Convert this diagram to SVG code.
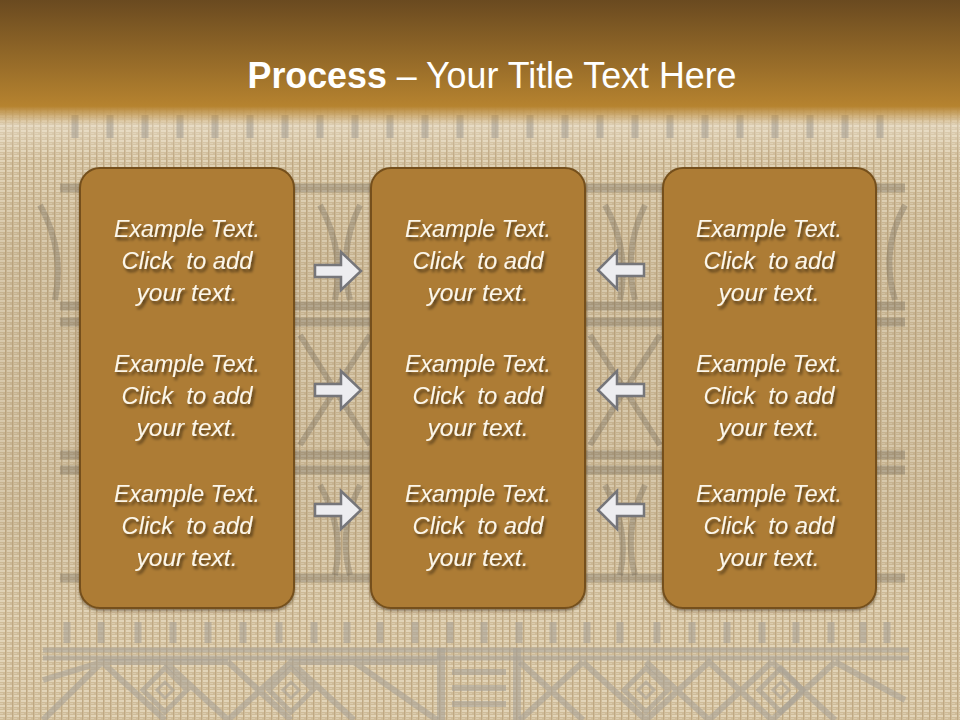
<svg xmlns="http://www.w3.org/2000/svg" width="960" height="720" viewBox="0 0 960 720">
  <defs>
    <pattern id="burlap" width="7" height="5" patternUnits="userSpaceOnUse">
      <rect width="7" height="5" fill="#cfbc99"/>
      <rect x="0" y="0" width="5" height="2" fill="#e2d4b8"/>
      <rect x="5" y="0" width="1" height="5" fill="#bfa883"/>
      <rect x="0" y="3" width="3" height="1" fill="#dbcbad"/>
    </pattern>
    <linearGradient id="hdr" x1="0" y1="0" x2="0" y2="1">
      <stop offset="0" stop-color="#6a4a20"/>
      <stop offset="0.85" stop-color="#b6832f"/>
      <stop offset="1" stop-color="#b6832f" stop-opacity="0"/>
    </linearGradient>
    <linearGradient id="lite" x1="0" y1="0" x2="0" y2="1">
      <stop offset="0" stop-color="#f1e8d8" stop-opacity="0.7"/>
      <stop offset="1" stop-color="#f1e8d8" stop-opacity="0"/>
    </linearGradient>
    <linearGradient id="mid" x1="0" y1="0" x2="0" y2="1">
      <stop offset="0" stop-color="#8a7350" stop-opacity="0"/>
      <stop offset="0.2" stop-color="#8a7350" stop-opacity="0.12"/>
      <stop offset="0.8" stop-color="#8a7350" stop-opacity="0.12"/>
      <stop offset="1" stop-color="#8a7350" stop-opacity="0"/>
    </linearGradient>
    <filter id="tshadow" x="-10%" y="-20%" width="130%" height="160%">
      <feDropShadow dx="2" dy="3" stdDeviation="1.5" flood-color="#000" flood-opacity="0.55"/>
    </filter>
    <filter id="bshadow" x="-10%" y="-10%" width="120%" height="120%">
      <feDropShadow dx="0" dy="2" stdDeviation="1.5" flood-color="#3a2508" flood-opacity="0.5"/>
    </filter>
    <style>
      .box { fill: #ad7b34; stroke: #74501c; stroke-width: 2; filter: url(#bshadow); }
      .lbl { font-family: "Liberation Sans", Arial, sans-serif; font-style: italic; font-size: 24.5px; fill: #fbf6ea; text-anchor: middle; white-space: pre; filter: url(#tshadow); }
      .arrow { fill: #ededf0; stroke: #76767a; stroke-width: 2.5; stroke-linejoin: miter; }
      .motif { fill: none; stroke: #a8a196; stroke-opacity: 0.6; }
      .motifd { fill: none; stroke: #6f6658; stroke-opacity: 0.35; }
    </style>
  </defs>

  <!-- background -->
  <rect width="960" height="720" fill="url(#burlap)"/>
  <rect y="160" width="960" height="450" fill="url(#mid)"/>
  <rect y="100" width="960" height="60" fill="url(#lite)"/>

  <!-- background motifs -->
  <g id="motifs">
    <g class="motif" stroke-width="7">
      <path d="M75,115V138 M110,115V138 M145,115V138 M180,115V138 M215,115V138 M250,115V138 M285,115V138 M320,115V138 M355,115V138 M390,115V138 M425,115V138 M460,115V138 M495,115V138 M530,115V138 M565,115V138 M600,115V138 M635,115V138 M670,115V138 M705,115V138 M740,115V138 M775,115V138 M810,115V138 M845,115V138 M880,115V138"/>
    </g>
    <g class="motifd" stroke-width="9">
      <path d="M60,188H905"/>
      <path d="M60,306H905 M60,322H905"/>
      <path d="M60,455H905 M60,470H905"/>
      <path d="M60,578H905"/>
    </g>
    <g class="motifd" stroke-width="6">
      <path d="M320,205Q345,250 335,300 M360,205Q338,250 350,300"/>
      <path d="M605,205Q630,250 620,300 M645,205Q623,250 635,300"/>
      <path d="M40,205Q65,250 55,300 M905,205Q880,250 895,300"/>
      <path d="M300,335L370,445 M370,335L300,445"/>
      <path d="M590,335L660,445 M660,335L590,445"/>
      <path d="M320,485Q345,530 335,575 M360,485Q338,530 350,575"/>
      <path d="M605,485Q630,530 620,575 M645,485Q623,530 635,575"/>
    </g>
    <g class="motif" stroke-width="7">
      <path d="M67,622V643 M101,622V643 M138,622V643 M173,622V643 M208,622V643 M243,622V643 M279,622V643 M314,622V643 M347,622V643 M380,622V643 M415,622V643 M450,622V643 M484,622V643 M519,622V643 M553,622V643 M587,622V643 M620,622V643 M657,622V643 M692,622V643 M727,622V643 M762,622V643 M796,622V643 M831,622V643 M863,622V643 M887,622V643"/>
      <path d="M43,650H909 M43,658H909" stroke-width="5"/>
      <path d="M441,648V720 M517,648V720" stroke-width="8"/>
      <path d="M452,672H506 M452,688H506 M452,704H506" stroke-width="6"/>
      <path d="M43,680L102,662L165,720 M102,662L43,720 M102,662L228,662 M165,662L228,720L291,662L354,720 M228,662L291,720 M291,662L354,662L437,720 M354,662L437,662" stroke-width="6"/>
      <path d="M520,662L583,720 M583,662L520,720 M583,662L646,720L709,662L772,720 M646,662L709,720L772,662 M772,662L835,720 M835,662L772,720 M835,662L905,700" stroke-width="6"/>
      <path d="M165,668L187,690L165,712L143,690Z M291,668L313,690L291,712L269,690Z M646,668L668,690L646,712L624,690Z M781,668L803,690L781,712L759,690Z" stroke-width="5"/>
      <path d="M165,682L173,690L165,698L157,690Z M291,682L299,690L291,698L283,690Z M646,682L654,690L646,698L638,690Z M781,682L789,690L781,698L773,690Z" stroke-width="3"/>
    </g>
  </g>

  <!-- header -->
  <rect width="960" height="125" fill="url(#hdr)"/>
  <text x="492" y="88" font-family="Liberation Sans, Arial, sans-serif" font-size="37" fill="#ffffff" text-anchor="middle" textLength="489" lengthAdjust="spacingAndGlyphs"><tspan font-weight="bold">Process</tspan> – Your Title Text Here</text>

  <!-- nodes -->
  <g id="box-left">
    <rect class="box" x="80" y="168" width="214" height="440" rx="20"/>
    <text class="lbl" x="187" y="237" textLength="146" lengthAdjust="spacingAndGlyphs">Example Text.</text>
    <text class="lbl" x="187" y="269" textLength="131" lengthAdjust="spacingAndGlyphs">Click  to add</text>
    <text class="lbl" x="187" y="301" textLength="101" lengthAdjust="spacingAndGlyphs">your text.</text>
    <text class="lbl" x="187" y="372" textLength="146" lengthAdjust="spacingAndGlyphs">Example Text.</text>
    <text class="lbl" x="187" y="404" textLength="131" lengthAdjust="spacingAndGlyphs">Click  to add</text>
    <text class="lbl" x="187" y="436" textLength="101" lengthAdjust="spacingAndGlyphs">your text.</text>
    <text class="lbl" x="187" y="502" textLength="146" lengthAdjust="spacingAndGlyphs">Example Text.</text>
    <text class="lbl" x="187" y="534" textLength="131" lengthAdjust="spacingAndGlyphs">Click  to add</text>
    <text class="lbl" x="187" y="566" textLength="101" lengthAdjust="spacingAndGlyphs">your text.</text>
  </g>
  <g id="box-middle">
    <rect class="box" x="371" y="168" width="214" height="440" rx="20"/>
    <text class="lbl" x="478" y="237" textLength="146" lengthAdjust="spacingAndGlyphs">Example Text.</text>
    <text class="lbl" x="478" y="269" textLength="131" lengthAdjust="spacingAndGlyphs">Click  to add</text>
    <text class="lbl" x="478" y="301" textLength="101" lengthAdjust="spacingAndGlyphs">your text.</text>
    <text class="lbl" x="478" y="372" textLength="146" lengthAdjust="spacingAndGlyphs">Example Text.</text>
    <text class="lbl" x="478" y="404" textLength="131" lengthAdjust="spacingAndGlyphs">Click  to add</text>
    <text class="lbl" x="478" y="436" textLength="101" lengthAdjust="spacingAndGlyphs">your text.</text>
    <text class="lbl" x="478" y="502" textLength="146" lengthAdjust="spacingAndGlyphs">Example Text.</text>
    <text class="lbl" x="478" y="534" textLength="131" lengthAdjust="spacingAndGlyphs">Click  to add</text>
    <text class="lbl" x="478" y="566" textLength="101" lengthAdjust="spacingAndGlyphs">your text.</text>
  </g>
  <g id="box-right">
    <rect class="box" x="663" y="168" width="213" height="440" rx="20"/>
    <text class="lbl" x="769" y="237" textLength="146" lengthAdjust="spacingAndGlyphs">Example Text.</text>
    <text class="lbl" x="769" y="269" textLength="131" lengthAdjust="spacingAndGlyphs">Click  to add</text>
    <text class="lbl" x="769" y="301" textLength="101" lengthAdjust="spacingAndGlyphs">your text.</text>
    <text class="lbl" x="769" y="372" textLength="146" lengthAdjust="spacingAndGlyphs">Example Text.</text>
    <text class="lbl" x="769" y="404" textLength="131" lengthAdjust="spacingAndGlyphs">Click  to add</text>
    <text class="lbl" x="769" y="436" textLength="101" lengthAdjust="spacingAndGlyphs">your text.</text>
    <text class="lbl" x="769" y="502" textLength="146" lengthAdjust="spacingAndGlyphs">Example Text.</text>
    <text class="lbl" x="769" y="534" textLength="131" lengthAdjust="spacingAndGlyphs">Click  to add</text>
    <text class="lbl" x="769" y="566" textLength="101" lengthAdjust="spacingAndGlyphs">your text.</text>
  </g>

  <!-- connectors -->
  <g id="connectors">
    <path class="arrow" d="M315,265H341V252L361,271L341,290V277H315Z"/>
    <path class="arrow" d="M315,384H341V371L361,390L341,409V396H315Z"/>
    <path class="arrow" d="M315,504H341V491L361,510L341,529V516H315Z"/>
    <path class="arrow" d="M644,264H617V251L598,270L617,289V276H644Z"/>
    <path class="arrow" d="M644,384H617V371L598,390L617,409V396H644Z"/>
    <path class="arrow" d="M644,504H617V491L598,510L617,529V516H644Z"/>
  </g>
</svg>
